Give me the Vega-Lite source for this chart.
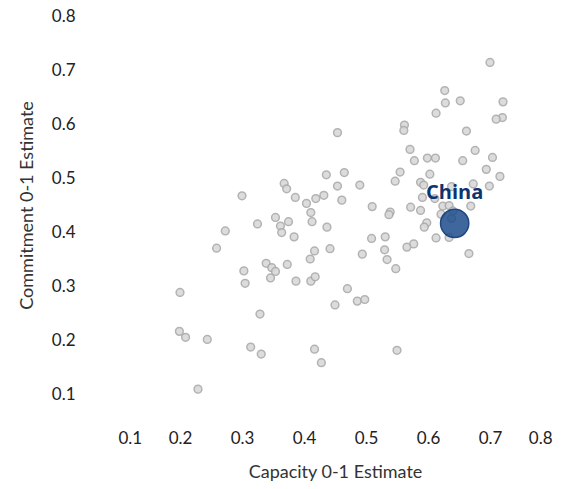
{
  "$schema": "https://vega.github.io/schema/vega-lite/v6.json",
  "width": 434,
  "height": 378,
  "autosize": {"type": "none"},
  "padding": {"left": 118, "top": 16, "right": 29, "bottom": 95},
  "background": "white",
  "config": {
    "view": {"stroke": null},
    "font": "Lato"
  },
  "data": {
    "values": [
      {"name": "", "capacity": 0.700, "commitment": 0.714},
      {"name": "", "capacity": 0.627, "commitment": 0.662},
      {"name": "", "capacity": 0.628, "commitment": 0.639},
      {"name": "", "capacity": 0.652, "commitment": 0.643},
      {"name": "", "capacity": 0.721, "commitment": 0.641},
      {"name": "", "capacity": 0.613, "commitment": 0.620},
      {"name": "", "capacity": 0.720, "commitment": 0.612},
      {"name": "", "capacity": 0.710, "commitment": 0.609},
      {"name": "", "capacity": 0.562, "commitment": 0.598},
      {"name": "", "capacity": 0.561, "commitment": 0.588},
      {"name": "", "capacity": 0.454, "commitment": 0.584},
      {"name": "", "capacity": 0.662, "commitment": 0.587},
      {"name": "", "capacity": 0.571, "commitment": 0.553},
      {"name": "", "capacity": 0.676, "commitment": 0.551},
      {"name": "", "capacity": 0.578, "commitment": 0.532},
      {"name": "", "capacity": 0.599, "commitment": 0.537},
      {"name": "", "capacity": 0.612, "commitment": 0.537},
      {"name": "", "capacity": 0.656, "commitment": 0.532},
      {"name": "", "capacity": 0.704, "commitment": 0.538},
      {"name": "", "capacity": 0.465, "commitment": 0.510},
      {"name": "", "capacity": 0.555, "commitment": 0.511},
      {"name": "", "capacity": 0.694, "commitment": 0.516},
      {"name": "", "capacity": 0.436, "commitment": 0.506},
      {"name": "", "capacity": 0.603, "commitment": 0.507},
      {"name": "", "capacity": 0.716, "commitment": 0.503},
      {"name": "", "capacity": 0.454, "commitment": 0.485},
      {"name": "", "capacity": 0.490, "commitment": 0.487},
      {"name": "", "capacity": 0.547, "commitment": 0.494},
      {"name": "", "capacity": 0.588, "commitment": 0.492},
      {"name": "", "capacity": 0.593, "commitment": 0.487},
      {"name": "", "capacity": 0.673, "commitment": 0.489},
      {"name": "", "capacity": 0.699, "commitment": 0.485},
      {"name": "", "capacity": 0.432, "commitment": 0.468},
      {"name": "", "capacity": 0.461, "commitment": 0.459},
      {"name": "", "capacity": 0.510, "commitment": 0.447},
      {"name": "", "capacity": 0.539, "commitment": 0.437},
      {"name": "", "capacity": 0.537, "commitment": 0.432},
      {"name": "", "capacity": 0.572, "commitment": 0.446},
      {"name": "", "capacity": 0.588, "commitment": 0.440},
      {"name": "", "capacity": 0.591, "commitment": 0.464},
      {"name": "", "capacity": 0.611, "commitment": 0.462},
      {"name": "", "capacity": 0.638, "commitment": 0.484},
      {"name": "", "capacity": 0.624, "commitment": 0.448},
      {"name": "", "capacity": 0.634, "commitment": 0.449},
      {"name": "", "capacity": 0.640, "commitment": 0.439},
      {"name": "", "capacity": 0.638, "commitment": 0.425},
      {"name": "", "capacity": 0.621, "commitment": 0.433},
      {"name": "", "capacity": 0.669, "commitment": 0.448},
      {"name": "", "capacity": 0.598, "commitment": 0.417},
      {"name": "", "capacity": 0.594, "commitment": 0.409},
      {"name": "", "capacity": 0.437, "commitment": 0.409},
      {"name": "", "capacity": 0.509, "commitment": 0.388},
      {"name": "", "capacity": 0.531, "commitment": 0.391},
      {"name": "", "capacity": 0.613, "commitment": 0.389},
      {"name": "", "capacity": 0.634, "commitment": 0.390},
      {"name": "", "capacity": 0.442, "commitment": 0.369},
      {"name": "", "capacity": 0.494, "commitment": 0.359},
      {"name": "", "capacity": 0.530, "commitment": 0.367},
      {"name": "", "capacity": 0.566, "commitment": 0.372},
      {"name": "", "capacity": 0.577, "commitment": 0.378},
      {"name": "", "capacity": 0.666, "commitment": 0.360},
      {"name": "", "capacity": 0.534, "commitment": 0.349},
      {"name": "", "capacity": 0.548, "commitment": 0.332},
      {"name": "", "capacity": 0.470, "commitment": 0.295},
      {"name": "", "capacity": 0.450, "commitment": 0.265},
      {"name": "", "capacity": 0.486, "commitment": 0.272},
      {"name": "", "capacity": 0.498, "commitment": 0.275},
      {"name": "", "capacity": 0.550, "commitment": 0.181},
      {"name": "", "capacity": 0.428, "commitment": 0.158},
      {"name": "", "capacity": 0.417, "commitment": 0.183},
      {"name": "", "capacity": 0.368, "commitment": 0.490},
      {"name": "", "capacity": 0.372, "commitment": 0.480},
      {"name": "", "capacity": 0.300, "commitment": 0.467},
      {"name": "", "capacity": 0.386, "commitment": 0.464},
      {"name": "", "capacity": 0.404, "commitment": 0.453},
      {"name": "", "capacity": 0.419, "commitment": 0.462},
      {"name": "", "capacity": 0.411, "commitment": 0.436},
      {"name": "", "capacity": 0.413, "commitment": 0.419},
      {"name": "", "capacity": 0.354, "commitment": 0.427},
      {"name": "", "capacity": 0.325, "commitment": 0.415},
      {"name": "", "capacity": 0.375, "commitment": 0.419},
      {"name": "", "capacity": 0.362, "commitment": 0.411},
      {"name": "", "capacity": 0.364, "commitment": 0.399},
      {"name": "", "capacity": 0.384, "commitment": 0.391},
      {"name": "", "capacity": 0.273, "commitment": 0.402},
      {"name": "", "capacity": 0.259, "commitment": 0.370},
      {"name": "", "capacity": 0.417, "commitment": 0.365},
      {"name": "", "capacity": 0.410, "commitment": 0.350},
      {"name": "", "capacity": 0.303, "commitment": 0.328},
      {"name": "", "capacity": 0.339, "commitment": 0.342},
      {"name": "", "capacity": 0.348, "commitment": 0.334},
      {"name": "", "capacity": 0.354, "commitment": 0.327},
      {"name": "", "capacity": 0.373, "commitment": 0.340},
      {"name": "", "capacity": 0.346, "commitment": 0.315},
      {"name": "", "capacity": 0.305, "commitment": 0.305},
      {"name": "", "capacity": 0.387, "commitment": 0.309},
      {"name": "", "capacity": 0.411, "commitment": 0.309},
      {"name": "", "capacity": 0.418, "commitment": 0.317},
      {"name": "", "capacity": 0.200, "commitment": 0.288},
      {"name": "", "capacity": 0.329, "commitment": 0.248},
      {"name": "", "capacity": 0.199, "commitment": 0.216},
      {"name": "", "capacity": 0.209, "commitment": 0.205},
      {"name": "", "capacity": 0.244, "commitment": 0.201},
      {"name": "", "capacity": 0.314, "commitment": 0.187},
      {"name": "", "capacity": 0.331, "commitment": 0.174},
      {"name": "", "capacity": 0.229, "commitment": 0.109},
      {"name": "China", "capacity": 0.643, "commitment": 0.416}
    ]
  },
  "encoding": {
    "x": {
      "field": "capacity",
      "type": "quantitative",
      "scale": {"domain": [0.1, 0.8], "nice": false, "zero": false},
      "axis": {
        "title": "Capacity 0-1 Estimate",
        "values": [0.1, 0.2, 0.3, 0.4, 0.5, 0.6, 0.7, 0.8],
        "format": ".1f",
        "domain": false,
        "ticks": false,
        "tickSize": 0,
        "grid": false,
        "offset": 30,
        "labelPadding": 6,
        "labelFontSize": 17,
        "labelColor": "#222222",
        "titleFontSize": 18,
        "titleFontWeight": "normal",
        "titleColor": "#333333",
        "titlePadding": 17
      }
    },
    "y": {
      "field": "commitment",
      "type": "quantitative",
      "scale": {"domain": [0.1, 0.8], "nice": false, "zero": false},
      "axis": {
        "title": "Commitment 0-1 Estimate",
        "values": [0.1, 0.2, 0.3, 0.4, 0.5, 0.6, 0.7, 0.8],
        "format": ".1f",
        "domain": false,
        "ticks": false,
        "tickSize": 0,
        "grid": false,
        "offset": 35,
        "labelPadding": 8,
        "labelFontSize": 17,
        "labelColor": "#222222",
        "titleFontSize": 18,
        "titleFontWeight": "normal",
        "titleColor": "#333333",
        "titlePadding": 15
      }
    }
  },
  "layer": [
    {
      "transform": [{"filter": "datum.name === ''"}],
      "mark": {
        "type": "circle",
        "size": 60,
        "fill": "#d9d9d9",
        "stroke": "#ababab",
        "strokeWidth": 1.5,
        "opacity": 0.9
      }
    },
    {
      "transform": [{"filter": "datum.name === 'China'"}],
      "mark": {
        "type": "circle",
        "size": 800,
        "fill": "#1f4c8c",
        "fillOpacity": 0.85,
        "stroke": "#1d4780",
        "strokeWidth": 1.5
      }
    },
    {
      "transform": [{"filter": "datum.name === 'China'"}],
      "mark": {
        "type": "text",
        "dy": -30,
        "fontSize": 20,
        "fontWeight": "bold",
        "font": "Open Sans",
        "color": "#0b3470",
        "baseline": "middle",
        "align": "center"
      },
      "encoding": {"text": {"field": "name"}}
    }
  ]
}
